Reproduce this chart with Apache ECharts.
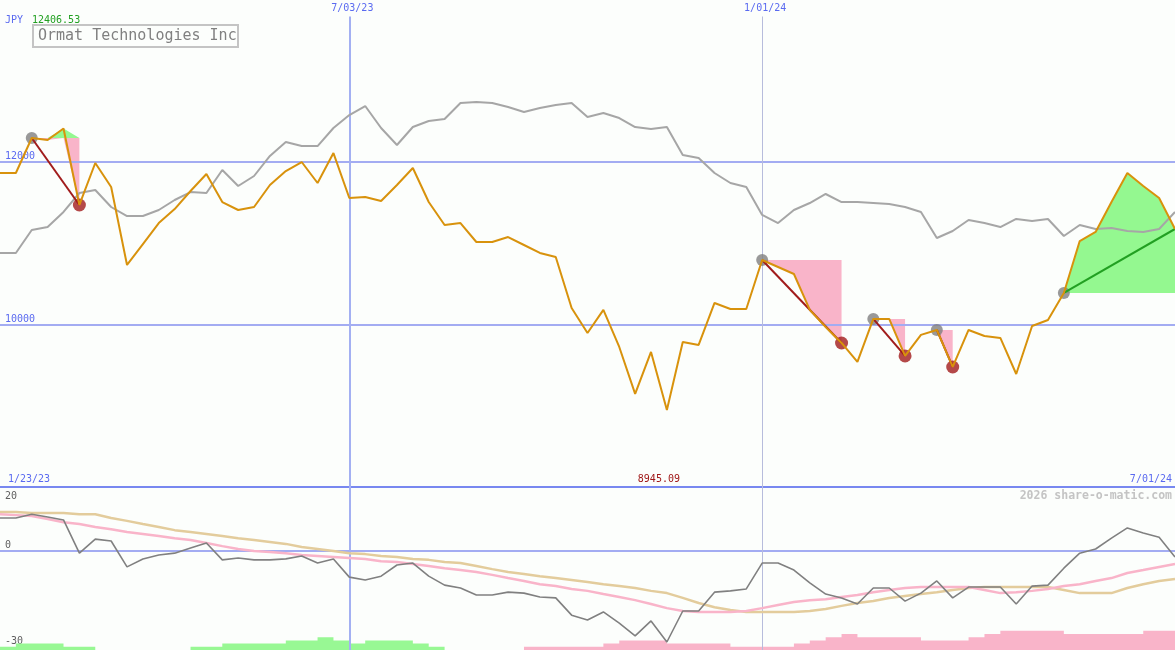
<!DOCTYPE html>
<html>
<head>
<meta charset="utf-8">
<script src="https://cdn.jsdelivr.net/npm/echarts@6/dist/echarts.min.js"></script>
<style>
  html, body { margin: 0; padding: 0; background: #fcfefc; }
  #chart { width: 1175px; height: 650px; }
</style>
</head>
<body>
<div id="chart"></div>
<script>
// ---------------- DATA ----------------
const dates = [
  '2023-01-30','2023-02-06','2023-02-13','2023-02-20','2023-02-27','2023-03-06','2023-03-13','2023-03-20','2023-03-27',
  '2023-04-03','2023-04-10','2023-04-17','2023-04-24','2023-05-01','2023-05-08','2023-05-15','2023-05-22','2023-05-29',
  '2023-06-05','2023-06-12','2023-06-19','2023-06-26','2023-07-03','2023-07-10','2023-07-17','2023-07-24','2023-07-31',
  '2023-08-07','2023-08-14','2023-08-21','2023-08-28','2023-09-04','2023-09-11','2023-09-18','2023-09-25','2023-10-02',
  '2023-10-09','2023-10-16','2023-10-23','2023-10-30','2023-11-06','2023-11-13','2023-11-20','2023-11-27','2023-12-04',
  '2023-12-11','2023-12-18','2023-12-25','2024-01-01','2024-01-08','2024-01-15','2024-01-22','2024-01-29','2024-02-05',
  '2024-02-12','2024-02-19','2024-02-26','2024-03-04','2024-03-11','2024-03-18','2024-03-25','2024-04-01','2024-04-08',
  '2024-04-15','2024-04-22','2024-04-29','2024-05-06','2024-05-13','2024-05-20','2024-05-27','2024-06-03','2024-06-10',
  '2024-06-17','2024-06-24','2024-07-01'
];
// share price (JPY)
const price = [
  11859,11859,12289,12264,12406.53,11466,11982,11687,10729,10986,11244,11416,11638,11846,11502,11404,11441,11711,
  11883,11994,11736,12104,11552,11564,11515,11711,11920,11502,11220,11244,11011,11011,11072,10974,10876,10827,
  10200,9893,10176,9721,9144,9660,8945.09,9783,9746,10262,10188,10188,10790,10704,10618,10176,9967,9770,
  9537,10065,10065,9611,9869,9930,9475,9930,9856,9832,9389,9979,10053,10385,11023,11134,11502,11859,11699,11552,11171
];
// comparison index (scaled)
const compare = [
  10876,10876,11158,11195,11380,11613,11650,11441,11330,11330,11404,11527,11625,11613,11896,11699,11822,12068,
  12240,12190,12190,12412,12571,12682,12412,12203,12424,12498,12522,12719,12731,12719,12670,12608,12657,12694,
  12719,12547,12596,12534,12424,12399,12424,12080,12043,11859,11736,11687,11343,11244,11404,11490,11601,11502,
  11502,11490,11478,11441,11380,11060,11146,11281,11244,11195,11294,11269,11294,11085,11220,11171,11183,11146,11134,11171,11380
];
// oscillator panel
const oscillator = [
  10.3,10.3,11.5,10.6,9.7,-0.7,3.7,3.1,-5.0,-2.5,-1.3,-0.7,0.9,2.5,-2.8,-2.2,-2.8,-2.8,-2.5,-1.6,-3.8,-2.5,
  -8.2,-9.1,-7.9,-4.4,-3.8,-7.9,-10.7,-11.6,-13.8,-13.8,-12.9,-13.2,-14.4,-14.7,-20.1,-21.6,-19.1,-22.6,-26.6,-21.9,
  -28.5,-18.8,-18.8,-12.9,-12.5,-11.9,-3.8,-3.8,-6.0,-10.0,-13.5,-14.7,-16.6,-11.6,-11.6,-15.7,-13.2,-9.4,-14.7,-11.3,
  -11.3,-11.3,-16.6,-11.0,-10.7,-5.4,-0.7,0.6,4.0,7.2,5.6,4.3,-1.9
];
const maFast = [
  11.5,11.2,10.9,10.0,9.0,8.4,7.5,6.8,5.9,5.3,4.7,4.0,3.4,2.5,1.5,0.6,0.0,-0.3,-0.7,-1.3,-1.6,-1.9,-2.2,-2.5,
  -3.2,-3.5,-4.1,-4.7,-5.4,-6.0,-6.6,-7.5,-8.5,-9.4,-10.4,-11.0,-11.9,-12.5,-13.5,-14.4,-15.4,-16.6,-17.9,-18.8,
  -19.1,-19.1,-19.1,-18.8,-17.9,-16.9,-16.0,-15.4,-15.1,-14.4,-13.8,-12.9,-12.2,-11.6,-11.3,-11.3,-11.3,-11.3,
  -12.2,-13.2,-12.9,-12.5,-11.9,-11.0,-10.4,-9.4,-8.5,-6.9,-6.0,-5.0,-4.1
];
const maSlow = [
  12.2,12.2,11.9,11.9,11.9,11.5,11.5,10.3,9.4,8.4,7.5,6.5,5.9,5.3,4.7,4.0,3.4,2.8,2.2,1.2,0.6,0.0,-0.7,-1.0,
  -1.6,-1.9,-2.5,-2.8,-3.5,-3.8,-4.7,-5.7,-6.6,-7.2,-7.9,-8.5,-9.1,-9.7,-10.4,-11.0,-11.6,-12.5,-13.2,-14.7,
  -16.3,-17.6,-18.5,-19.1,-19.1,-19.1,-19.1,-18.8,-18.2,-17.2,-16.3,-15.7,-14.7,-14.1,-13.5,-12.9,-12.2,-11.6,
  -11.3,-11.3,-11.3,-11.3,-11.3,-12.2,-13.2,-13.2,-13.2,-11.6,-10.4,-9.4,-8.8
];
// strength blocks per week (between consecutive dates)
const gainBlocks = [1,2,2,2,1,1,0,0,0,0,0,0,1,1,2,2,2,2,3,3,4,3,2,3,3,3,2,1,
  0,0,0,0,0,0,0,0,0,0,0,0,0,0,0,0,0,0,0,0,0,0,0,0,0,0,0,0,0,0,0,0,0,0,0,0,0,0,0,0,0,0,0,0,0,0];
const lossBlocks = [0,0,0,0,0,0,0,0,0,0,0,0,0,0,0,0,0,0,0,0,0,0,0,0,0,0,0,0,0,0,0,0,0,
  1,1,1,1,1,2,3,3,3,2,2,2,2,1,1,1,1,2,3,4,5,4,4,4,4,3,3,3,4,5,6,6,6,6,5,5,5,5,5,6,6];
// peak -> trough events (last peak still open)
const peakIdx = [2, 48, 55, 59, 67];
const troughIdx = [5, 53, 57, 60];

const topTicks = [10000, 12000];
const bottomTicks = [20, 0, -30];
const markDates = ['2023-07-03', '2024-01-01'];
const markDateLabels = ['7/03/23', '1/01/24'];
const rangeLabels = ['1/23/23', '7/01/24'];
const currency = 'JPY';
const companyName = 'Ormat Technologies Inc';
const credit = '2026 share-o-matic.com';

// ---------------- CHART ----------------
const FONT = 'DejaVu Sans Mono';
const chart = echarts.init(document.getElementById('chart'), null, { renderer: 'canvas' });
const pt = (arr, i) => [dates[i], arr[i]];
const series = [];

// event fills (pink where price is below the peak level, green where above)
peakIdx.forEach((p, k) => {
  const end = k < troughIdx.length ? troughIdx[k] : dates.length - 1;
  const level = price[p];
  const below = [], above = [];
  for (let i = p; i <= end; i++) {
    below.push([dates[i], Math.min(price[i], level)]);
    above.push([dates[i], Math.max(price[i], level)]);
  }
  [[below, '#f9b4c9'], [above, '#94f890']].forEach(([d, c]) => {
    series.push({
      type: 'line', xAxisIndex: 0, yAxisIndex: 0, data: d, z: 1,
      showSymbol: false, silent: true, lineStyle: { width: 0 },
      areaStyle: { color: c, opacity: 1, origin: level }
    });
  });
});

// comparison line + grid markers
series.push({
  type: 'line', xAxisIndex: 0, yAxisIndex: 0, z: 3,
  data: dates.map((d, i) => pt(compare, i)),
  showSymbol: false, silent: true,
  lineStyle: { color: '#a6a6a6', width: 2 },
  markLine: {
    silent: true, symbol: 'none', z: 2, label: { show: false },
    data: [
      ...topTicks.map(v => ({ yAxis: v, lineStyle: { color: '#a3acf2', width: 2, type: 'solid' } })),
      { xAxis: markDates[0], lineStyle: { color: '#a3b0f2', width: 2, type: 'solid' } },
      { xAxis: markDates[1], lineStyle: { color: '#b7bcdc', width: 1, type: 'solid' } }
    ]
  }
});

// peak markers
series.push({
  type: 'scatter', xAxisIndex: 0, yAxisIndex: 0, z: 4, silent: true,
  symbolSize: 12, itemStyle: { color: '#808080' },
  data: peakIdx.map(i => pt(price, i))
});
// trough markers
series.push({
  type: 'scatter', xAxisIndex: 0, yAxisIndex: 0, z: 4, silent: true,
  symbolSize: 13, itemStyle: { color: '#a11c1c' },
  data: troughIdx.map(i => pt(price, i))
});
// peak->trough connectors
troughIdx.forEach((t, k) => {
  series.push({
    type: 'line', xAxisIndex: 0, yAxisIndex: 0, z: 5, silent: true, showSymbol: false,
    lineStyle: { color: '#a11c1c', width: 2 },
    data: [pt(price, peakIdx[k]), pt(price, t)]
  });
});
// open trend line
series.push({
  type: 'line', xAxisIndex: 0, yAxisIndex: 0, z: 5, silent: true, showSymbol: false,
  lineStyle: { color: '#22a022', width: 2 },
  data: [pt(price, peakIdx[peakIdx.length - 1]), pt(price, dates.length - 1)]
});
// price line
series.push({
  type: 'line', xAxisIndex: 0, yAxisIndex: 0, z: 6, silent: true, showSymbol: false,
  lineStyle: { color: '#d8920c', width: 2 },
  data: dates.map((d, i) => pt(price, i))
});

// bottom blocks
const blockData = arr => dates.map((d, i) => [d, i < arr.length ? arr[i] : arr[arr.length - 1]]);
[[gainBlocks, '#98f894'], [lossBlocks, '#f9b4c9']].forEach(([arr, c]) => {
  series.push({
    type: 'line', xAxisIndex: 1, yAxisIndex: 2, step: 'end', z: 1, silent: true, showSymbol: false,
    lineStyle: { width: 0 }, areaStyle: { color: c, opacity: 1 },
    data: blockData(arr)
  });
});
series.push({
  type: 'line', xAxisIndex: 1, yAxisIndex: 1, z: 3, silent: true, showSymbol: false,
  lineStyle: { color: '#e3cc9c', width: 2.5 },
  data: dates.map((d, i) => pt(maSlow, i))
});
series.push({
  type: 'line', xAxisIndex: 1, yAxisIndex: 1, z: 3, silent: true, showSymbol: false,
  lineStyle: { color: '#f9b4c9', width: 2.5 },
  data: dates.map((d, i) => pt(maFast, i))
});
series.push({
  type: 'line', xAxisIndex: 1, yAxisIndex: 1, z: 4, silent: true, showSymbol: false,
  lineStyle: { color: '#808080', width: 1.6 },
  data: dates.map((d, i) => pt(oscillator, i)),
  markLine: {
    silent: true, symbol: 'none', z: 2, label: { show: false },
    data: [
      { yAxis: 0, lineStyle: { color: '#a3acf2', width: 2, type: 'solid' } },
      { xAxis: markDates[0], lineStyle: { color: '#a3b0f2', width: 2, type: 'solid' } },
      { xAxis: markDates[1], lineStyle: { color: '#b7bcdc', width: 1, type: 'solid' } }
    ]
  }
});

const labelFont = { fontFamily: FONT, fontSize: 10 };

chart.setOption({
  animation: false,
  backgroundColor: '#fcfefc',
  grid: [
    { left: 0, right: 0, top: 0, height: 487 },
    { left: 0, right: 0, top: 487, height: 163 }
  ],
  xAxis: [
    { type: 'time', gridIndex: 0, min: dates[0], max: dates[dates.length - 1],
      axisLabel: { show: false }, axisTick: { show: false }, splitLine: { show: false },
      axisLine: { show: true, onZero: false, lineStyle: { color: '#7888f0', width: 2 } } },
    { type: 'time', gridIndex: 1, min: dates[0], max: dates[dates.length - 1],
      axisLabel: { show: false }, axisTick: { show: false }, splitLine: { show: false },
      axisLine: { show: false } }
  ],
  yAxis: [
    { type: 'value', gridIndex: 0, min: 8000, max: 13985,
      axisLine: { show: false }, axisTick: { show: false }, splitLine: { show: false },
      axisLabel: { inside: true, customValues: topTicks, margin: 5, verticalAlign: 'bottom',
        color: '#5a6af0', ...labelFont, formatter: v => String(v) } },
    { type: 'value', gridIndex: 1, min: -31, max: 20,
      axisLine: { show: false }, axisTick: { show: false }, splitLine: { show: false },
      axisLabel: { inside: true, customValues: bottomTicks, margin: 5, verticalAlign: 'middle',
        color: '#606060', ...labelFont,
        formatter: v => (v === bottomTicks[0] ? '{d|' + v + '}' : '{u|' + v + '}'),
        rich: {
          d: { padding: [18, 0, 0, 0], color: '#606060', ...labelFont },
          u: { padding: [0, 0, 11, 0], color: '#606060', ...labelFont }
        } } },
    { type: 'value', gridIndex: 1, min: 0, max: 51, show: false }
  ],
  series
});

// text annotations tied to the axes
const xOf = d => chart.convertToPixel({ xAxisIndex: 0 }, d);
const maxP = Math.max(...price), minP = Math.min(...price);
const txt = (x, y, text, fill, extra) => ({
  type: 'text', x, y, z: 50,
  style: Object.assign({ text, fill, font: '10px "' + FONT + '"', verticalAlign: 'middle' }, extra || {})
});
const graphics = [
  txt(5, 20, currency, '#5a6af0'),
  txt(32, 20, maxP.toFixed(2), '#22a022'),
  { type: 'rect', z: 50, shape: { x: 33, y: 25, width: 205, height: 22 },
    style: { fill: '#fcfefc', stroke: '#c4c4c4', lineWidth: 2 } },
  txt(38, 36.5, companyName, '#808080', { font: '15px "' + FONT + '"' }),
  txt(8, 479, rangeLabels[0], '#5a6af0'),
  txt(xOf(dates[price.indexOf(minP)]) - 8, 479, minP.toFixed(2), '#a01818', { align: 'center' }),
  txt(1172, 479, rangeLabels[1], '#5a6af0', { align: 'right' }),
  txt(1172, 496, credit, '#c4c4c4', { align: 'right', font: 'bold 11.5px "' + FONT + '"' })
];
markDates.forEach((d, i) => {
  graphics.push({
    type: 'text', z: 50, x: xOf(d) + 3, y: 8,
    style: { text: markDateLabels[i], fill: '#5a6af0', font: '10px "' + FONT + '"',
      align: 'center', verticalAlign: 'middle',
      backgroundColor: '#fcfefc', padding: [3, 2, 4, 2] }
  });
});
chart.setOption({ graphic: graphics });
</script>
</body>
</html>
